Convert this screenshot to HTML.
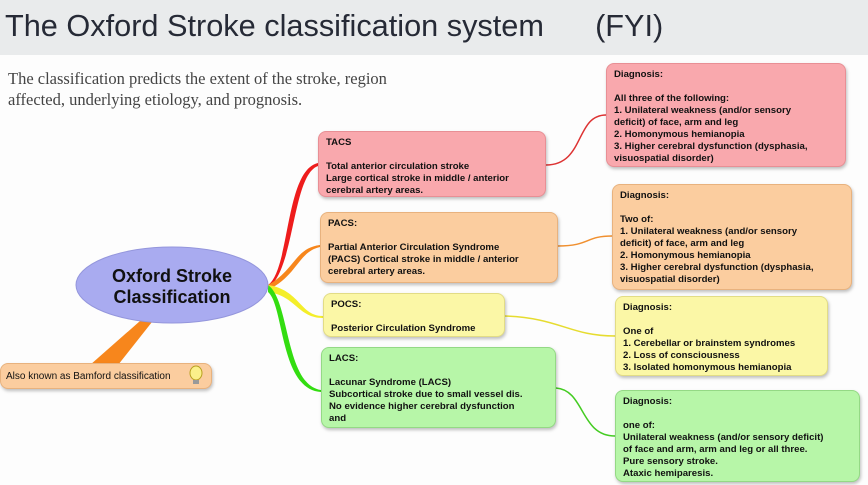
<!DOCTYPE html>
<html><head><meta charset="utf-8"><style>
body{margin:0;width:868px;height:485px;overflow:hidden;background:#fdfdfd;font-family:"Liberation Sans",Arial,sans-serif;position:relative}
.bar{position:absolute;left:0;top:0;width:868px;height:55px;background:#e9ebec}
.title{position:absolute;left:5px;top:8px;font-size:30.7px;color:#262a36;white-space:pre}
.intro{position:absolute;left:8px;top:68px;font-family:"Liberation Serif",serif;font-size:16.5px;line-height:21px;color:#444}
.box{position:absolute;border-radius:8px;box-sizing:border-box;padding:5px 7px;font-size:9.6px;font-weight:bold;line-height:12px;color:#111;box-shadow:1px 2px 3px rgba(0,0,0,.25);white-space:nowrap}
.pink{background:#f9a8ad;border:1px solid #e88f95}
.orange{background:#fbcd9f;border:1px solid #e8b27e}
.yellow{background:#fbf7a6;border:1px solid #e2dc86}
.green{background:#b7f6a8;border:1px solid #94d985}
svg{position:absolute;left:0;top:0}
</style></head><body>
<div class="bar"></div>
<div class="title">The Oxford Stroke classification system      (FYI)</div>
<div class="intro">The classification predicts the extent of the stroke, region<br>affected, underlying etiology, and prognosis.</div>
<svg width="868" height="485">
<path d="M268 285 C290 270 285 170 318 163 L318 166 C292 175 295 270 268 288Z" fill="#ee1c1c"/>
<path d="M268 285 C295 270 295 248 320 245 L320 247 C298 252 298 275 268 290Z" fill="#f7861c"/>
<path d="M268 285 C300 290 300 316 323 316 L323 318 C298 318 296 296 268 292Z" fill="#f4ee2a"/>
<path d="M268 285 C290 300 285 385 321 390 L321 392 C280 390 284 305 268 292Z" fill="#33dd11"/>
<path d="M546 165 C585 165 575 115 606 115" stroke="#dd3333" stroke-width="1.5" fill="none"/>
<path d="M558 246 C590 246 585 236 612 236" stroke="#f09030" stroke-width="1.5" fill="none"/>
<path d="M505 316 C560 318 570 336 615 336" stroke="#e6dc30" stroke-width="1.5" fill="none"/>
<path d="M556 388 C585 390 580 436 615 436" stroke="#44cc22" stroke-width="1.5" fill="none"/>
<path d="M140 321 L152 322 L118 365 L90 365Z" fill="#f7861c"/>
<ellipse cx="172" cy="285" rx="96" ry="38" fill="#a9abf0" stroke="#9496dc"/>
<text x="172" y="282" text-anchor="middle" font-family="Liberation Sans" font-weight="bold" font-size="18" fill="#111">Oxford Stroke</text>
<text x="172" y="303" text-anchor="middle" font-family="Liberation Sans" font-weight="bold" font-size="18" fill="#111">Classification</text>
</svg>
<div class="box orange" style="left:0;top:363px;width:212px;height:26px;font-weight:normal;font-size:10px;padding:7px 5px">Also known as Bamford classification</div>
<svg width="868" height="485"><ellipse cx="196" cy="373" rx="6" ry="7" fill="#fbf08a" stroke="#b8a020"/><rect x="193" y="380" width="6" height="4" fill="#999"/></svg>
<div class="box pink" style="left:318px;top:131px;width:228px;height:66px">TACS<br><br>Total anterior circulation stroke<br>Large cortical stroke in middle / anterior<br>cerebral artery areas.</div>
<div class="box orange" style="left:320px;top:212px;width:238px;height:71px">PACS:<br><br>Partial Anterior Circulation Syndrome<br>(PACS) Cortical stroke in middle / anterior<br>cerebral artery areas.</div>
<div class="box yellow" style="left:323px;top:293px;width:182px;height:44px">POCS:<br><br>Posterior Circulation Syndrome</div>
<div class="box green" style="left:321px;top:347px;width:235px;height:81px">LACS:<br><br>Lacunar Syndrome (LACS)<br>Subcortical stroke due to small vessel dis.<br>No evidence higher cerebral dysfunction<br>and</div>
<div class="box pink" style="left:606px;top:63px;width:240px;height:104px">Diagnosis:<br><br>All three of the following:<br>1. Unilateral weakness (and/or sensory<br>deficit) of face, arm and leg<br>2. Homonymous hemianopia<br>3. Higher cerebral dysfunction (dysphasia,<br>visuospatial disorder)</div>
<div class="box orange" style="left:612px;top:184px;width:240px;height:106px">Diagnosis:<br><br>Two of:<br>1. Unilateral weakness (and/or sensory<br>deficit) of face, arm and leg<br>2. Homonymous hemianopia<br>3. Higher cerebral dysfunction (dysphasia,<br>visuospatial disorder)</div>
<div class="box yellow" style="left:615px;top:296px;width:213px;height:80px">Diagnosis:<br><br>One of<br>1. Cerebellar or brainstem syndromes<br>2. Loss of consciousness<br>3. Isolated homonymous hemianopia</div>
<div class="box green" style="left:615px;top:390px;width:245px;height:92px">Diagnosis:<br><br>one of:<br>Unilateral weakness (and/or sensory deficit)<br>of face and arm, arm and leg or all three.<br>Pure sensory stroke.<br>Ataxic hemiparesis.</div>
</body></html>
